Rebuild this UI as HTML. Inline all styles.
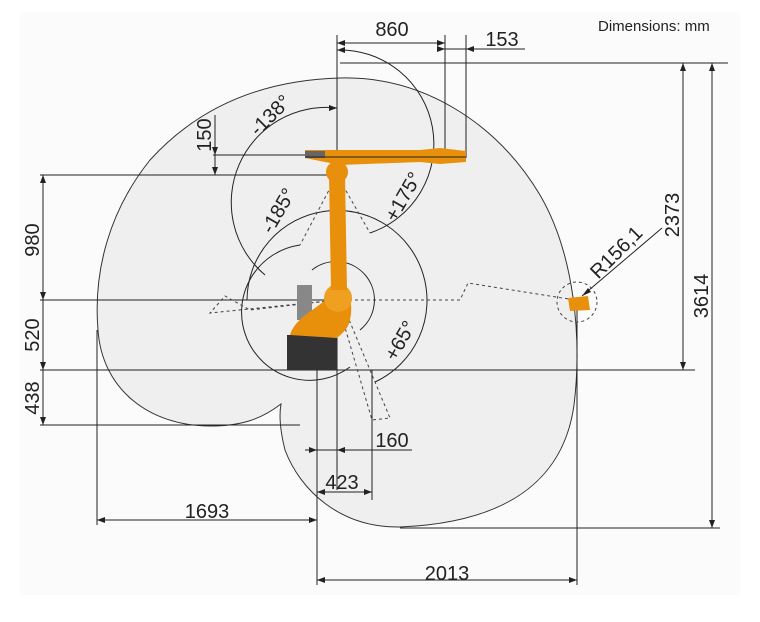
<!DOCTYPE html>
<html><head><meta charset="utf-8"><style>
html,body{margin:0;padding:0;background:#fff;}
svg{display:block;}
text{font-family:"Liberation Sans",sans-serif;fill:#222;}
</style></head><body>
<svg width="760" height="622" viewBox="0 0 760 622">
<rect x="0" y="0" width="760" height="622" fill="#fff"/>
<rect x="20" y="12" width="720" height="583" fill="#fbfbfb"/>
<!-- envelope -->
<path d="M340,78 C420,76 495,120 540,195 C575,255 582,340 574,405 C565,470 520,522 400,527 C340,528 300,490 285,450 C280,430 279,415 281,404 C260,420 240,426 210,426 C150,426 102,390 98,330 C93,270 110,210 150,160 C200,105 265,80 340,78 Z" fill="#efefef" stroke="#333" stroke-width="1"/>
<g stroke="#222" stroke-width="1" fill="none">
<line x1="337" y1="35" x2="337" y2="490"/>
<line x1="445" y1="35" x2="445" y2="160"/>
<line x1="466" y1="35" x2="466" y2="158"/>
<line x1="337" y1="43" x2="445" y2="43"/>
<line x1="437" y1="49" x2="525" y2="49"/>
<line x1="340" y1="63" x2="728" y2="63"/>
<line x1="683" y1="63" x2="683" y2="370"/>
<line x1="712" y1="63" x2="712" y2="528"/>
<line x1="40" y1="370" x2="695" y2="370"/>
<line x1="40" y1="300" x2="330" y2="300"/>
<line x1="40" y1="175" x2="330" y2="175"/>
<line x1="213" y1="155" x2="330" y2="155"/>
<line x1="215" y1="115" x2="215" y2="175"/>
<line x1="43" y1="175" x2="43" y2="425"/>
<line x1="40" y1="425" x2="300" y2="425"/>
<line x1="97" y1="330" x2="97" y2="525"/>
<line x1="97" y1="520" x2="317" y2="520"/>
<line x1="317" y1="370" x2="317" y2="585"/>
<line x1="577" y1="300" x2="577" y2="585"/>
<line x1="317" y1="580" x2="577" y2="580"/>
<line x1="372" y1="370" x2="372" y2="500"/>
<line x1="317" y1="492" x2="372" y2="492"/>
<line x1="305" y1="450" x2="412" y2="450"/>
<line x1="400" y1="528" x2="720" y2="528"/>
<path d="M337,50 A94,94 0 0 1 370,233"/>
<path d="M337,108 A95,95 0 0 0 265,275"/>
<path d="M247,300 A90,90 0 1 1 375,382"/>
<path d="M300,245 A68,68 0 1 0 350,367"/>
<path d="M312,270 A35,35 0 1 1 360,330"/>
<line x1="582" y1="296" x2="662" y2="228"/>
</g>
<g fill="#222">
<polygon points="337,43 345,40 345,46"/><polygon points="445,43 437,40 437,46"/>
<polygon points="445,49 437,46 437,52"/><polygon points="466,49 474,46 474,52"/>
<polygon points="683,63 680,71 686,71"/><polygon points="683,370 680,362 686,362"/>
<polygon points="712,63 709,71 715,71"/><polygon points="712,528 709,520 715,520"/>
<polygon points="43,175 40,183 46,183"/><polygon points="43,300 40,292 46,292"/>
<polygon points="43,370 40,362 46,362"/><polygon points="43,425 40,417 46,417"/>
<polygon points="215,155 212,147 218,147"/><polygon points="215,175 212,167 218,167"/>
<polygon points="97,520 105,517 105,523"/><polygon points="317,520 309,517 309,523"/>
<polygon points="317,580 325,577 325,583"/><polygon points="577,580 569,577 569,583"/>
<polygon points="317,492 325,489 325,495"/><polygon points="372,492 364,489 364,495"/>
<polygon points="317,450 309,447 309,453"/><polygon points="337,450 345,447 345,453"/>
<polygon points="337,108 329,105 329,111"/><polygon points="337,50 345,47 345,53"/>
<polygon points="582,296 588,288 591,292"/>
</g>
<g stroke="#444" stroke-width="1" fill="none" stroke-dasharray="3,3">
<polyline points="337,300 460,300 468,283 575,300"/>
<polyline points="337,300 210,313 225,296 250,310 337,300"/>
<polyline points="337,300 372,420 390,418 345,310"/>
<polyline points="337,175 370,233"/>
<polyline points="337,175 300,245"/>
<circle cx="577" cy="302" r="20"/>
</g>
<rect x="287" y="335" width="50" height="35" fill="#333"/>
<rect x="297" y="285" width="15" height="35" fill="#888"/>
<path d="M290,335 C295,318 315,310 325,300 L330,290 C345,275 355,300 350,320 C348,330 340,335 337,338 Z" fill="#e8900c"/>
<circle cx="338" cy="298" r="14" fill="#f0a020"/>
<path d="M329,175 L345,175 L347,290 L331,290 Z" fill="#e8900c"/>
<circle cx="337" cy="172" r="11" fill="#e8900c"/>
<path d="M305,150 L420,150 L440,148 L466,151 L466,162 L440,164 L420,162 L340,165 L305,158 Z" fill="#e8900c"/>
<rect x="305" y="151" width="20" height="7" fill="#666"/>
<path d="M568,298 L588,296 L590,310 L570,311 Z" fill="#e8900c"/>
<line x1="305" y1="157" x2="466" y2="157" stroke="#222" stroke-width="1"/>
<text x="598" y="31" font-size="15">Dimensions: mm</text>
<text x="392" y="36" font-size="20" text-anchor="middle">860</text>
<text x="502" y="46" font-size="20" text-anchor="middle">153</text>
<text x="447" y="580" font-size="20" text-anchor="middle">2013</text>
<text x="207" y="518" font-size="20" text-anchor="middle">1693</text>
<text x="342" y="489" font-size="20" text-anchor="middle">423</text>
<text x="392" y="447" font-size="20" text-anchor="middle">160</text>
<text transform="translate(679,215) rotate(-90)" font-size="20" text-anchor="middle">2373</text>
<text transform="translate(708,296) rotate(-90)" font-size="20" text-anchor="middle">3614</text>
<text transform="translate(39,240) rotate(-90)" font-size="20" text-anchor="middle">980</text>
<text transform="translate(39,335) rotate(-90)" font-size="20" text-anchor="middle">520</text>
<text transform="translate(39,398) rotate(-90)" font-size="20" text-anchor="middle">438</text>
<text transform="translate(211,135) rotate(-90)" font-size="20" text-anchor="middle">150</text>
<text transform="translate(275,120) rotate(-45)" font-size="20" text-anchor="middle">-138°</text>
<text transform="translate(284,214) rotate(-60)" font-size="20" text-anchor="middle">-185°</text>
<text transform="translate(409,200) rotate(-60)" font-size="20" text-anchor="middle">+175°</text>
<text transform="translate(406,344) rotate(-60)" font-size="20" text-anchor="middle">+65°</text>
<text transform="translate(621,257) rotate(-45)" font-size="20" text-anchor="middle">R156,1</text>
</svg>
</body></html>
